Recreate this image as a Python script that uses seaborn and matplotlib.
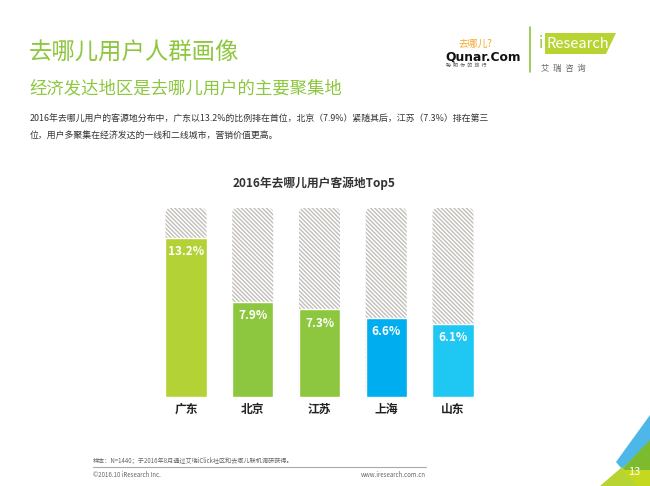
import numpy as np
import pandas as pd
import matplotlib
matplotlib.use("Agg")
import matplotlib.pyplot as plt
import seaborn as sns
from matplotlib.patches import FancyBboxPatch, Polygon
from matplotlib.lines import Line2D

# ---------------- data ----------------
regions = ["广东", "北京", "江苏", "上海", "山东"]
shares = [13.2, 7.9, 7.3, 6.6, 6.1]
value_labels = ["13.2%", "7.9%", "7.3%", "6.6%", "6.1%"]
bar_colors = ["#B2D235", "#8DC63F", "#8DC63F", "#00AEEF", "#1EC8F2"]
track_max = 15.7

chart_title = "2016年去哪儿用户客源地Top5"
main_title = "去哪儿用户人群画像"
sub_title = "经济发达地区是去哪儿用户的主要聚集地"
body_line1 = "2016年去哪儿用户的客源地分布中，广东以13.2%的比例排在首位，北京（7.9%）紧随其后，江苏（7.3%）排在第三"
body_line2 = "位，用户多聚集在经济发达的一线和二线城市，营销价值更高。"
source_note = "样本：N=1440；于2016年8月通过艾瑞iClick社区和去哪儿联机调研获得。"
copyright_note = "©2016.10 iResearch Inc."
site_note = "www.iresearch.com.cn"
page_no = "13"

# ---------------- style ----------------
sns.set_theme(style="white")
plt.rcParams["font.family"] = ["Noto Sans CJK SC", "DejaVu Sans"]
plt.rcParams["hatch.linewidth"] = 1.0

W, H = 650, 486
fig = plt.figure(figsize=(6.5, 4.86), dpi=100)
fig.patch.set_facecolor("white")


def fx(x):
    return x / W


def fy(y):
    return 1 - y / H


ax_left, ax_right, ax_top, ax_bottom = 152.6, 486.35, 208, 397
ax = fig.add_axes([fx(ax_left), fy(ax_bottom), (ax_right - ax_left) / W, (ax_bottom - ax_top) / H])

df = pd.DataFrame({"region": regions, "share": shares, "track": [track_max] * len(regions)})

# background hatched tracks
sns.barplot(data=df, x="region", y="track", color="white", width=0.615,
            saturation=1, ax=ax, zorder=0.5)
ppu_x = (ax_right - ax_left) / len(regions)
ppu_y = (ax_bottom - ax_top) / track_max
aspect = ppu_x / ppu_y
for p in list(ax.patches):
    x, y, w, h = p.get_x(), p.get_y(), p.get_width(), p.get_height()
    p.remove()
    fb = FancyBboxPatch((x, y), w, h,
                        boxstyle="round,pad=0,rounding_size=0.08",
                        mutation_aspect=aspect,
                        facecolor="white", edgecolor="#C2BEB9",
                        linewidth=0, hatch="\\" * 8, zorder=0.5)
    ax.add_patch(fb)

n_before = len(ax.patches)
sns.barplot(data=df, x="region", y="share", hue="region", palette=bar_colors,
            width=0.615, saturation=1, legend=False, ax=ax, zorder=2)
bars = sorted(ax.patches[n_before:], key=lambda b: b.get_x())
for b, lab in zip(bars, value_labels):
    ax.annotate(lab, (b.get_x() + b.get_width() / 2, b.get_height()),
                xytext=(0, -10), textcoords="offset points",
                ha="center", va="center", color="white",
                fontsize=8.5, fontweight="bold", zorder=3)

ax.set_xlim(-0.5, len(regions) - 0.5)
ax.set_ylim(0, track_max)
ax.set_xlabel("")
ax.set_ylabel("")
ax.set_yticks([])
ax.tick_params(axis="x", length=0, pad=4)
for t in ax.get_xticklabels():
    t.set_fontsize(8.5)
    t.set_fontweight("bold")
    t.set_color("#222222")
for s in ax.spines.values():
    s.set_visible(False)
ax.patch.set_alpha(0)

# ---------------- texts ----------------
green = "#8DC63F"
fig.text(fx(29), fy(53), main_title, fontsize=16.8, color=green, ha="left", va="center")
fig.text(fx(29), fy(88), sub_title, fontsize=12.5, color=green, ha="left", va="center")
fig.text(fx(30), fy(118), body_line1, fontsize=6.4, color="#333333", ha="left", va="center")
fig.text(fx(30), fy(135), body_line2, fontsize=6.4, color="#333333", ha="left", va="center")
fig.text(fx(314), fy(183), chart_title, fontsize=8.5, fontweight="bold", color="#333333",
         ha="center", va="center")

fig.text(fx(93), fy(461), source_note, fontsize=4.4, color="#666666", ha="left", va="center")
fig.add_artist(Line2D([fx(93), fx(426)], [fy(467), fy(467)], color="#AAAAAA", lw=0.8,
                      transform=fig.transFigure))
fig.text(fx(93), fy(475), copyright_note, fontsize=4.4, color="#666666", ha="left", va="center")
fig.text(fx(426), fy(475), site_note, fontsize=4.4, color="#666666", ha="right", va="center")

# ---------------- logos ----------------
fig.text(fx(458), fy(44), "去哪儿?", fontsize=7, color="#F5A623", ha="left", va="center")
fig.text(fx(445), fy(57), "Qunar.Com", fontsize=8.8, fontweight="bold", color="#111111",
         ha="left", va="center", family=["DejaVu Sans"])
fig.text(fx(446), fy(65.5), "聪  明  你  的  旅  行", fontsize=3.5, color="#555555", ha="left", va="center")
fig.add_artist(Line2D([fx(530), fx(530)], [fy(27), fy(72)], color=green, lw=1.2,
                      transform=fig.transFigure))
poly = Polygon([(fx(545), fy(33)), (fx(616), fy(33)), (fx(606), fy(54)), (fx(545), fy(54))],
               closed=True, facecolor="#B8D432", edgecolor="none", transform=fig.transFigure)
fig.add_artist(poly)
fig.text(fx(539), fy(44), "i", fontsize=11, color=green, ha="left", va="center")
fig.text(fx(546), fy(44), "Research", fontsize=10.5, color="white", ha="left", va="center")
fig.text(fx(541), fy(68), "艾  瑞  咨  询", fontsize=6, color="#666666", ha="left", va="center")

# ---------------- corner decoration ----------------
corner = [
    ([(616, 462), (650, 415), (650, 442), (622, 469)], "#4DB8E8"),
    ([(622, 469), (650, 440), (650, 486), (612, 486)], "#7DBB2E"),
    ([(600, 486), (622, 467), (640, 486)], "#B8D432"),
    ([(622, 470), (650, 470), (650, 486), (638, 486)], "#C3D81E"),
]
for pts, col in corner:
    fig.add_artist(Polygon([(fx(a), fy(b)) for a, b in pts], closed=True,
                           facecolor=col, edgecolor="none", transform=fig.transFigure))
fig.text(fx(634), fy(472), page_no, fontsize=8, color="white", ha="center", va="center")

fig.savefig("out.png", dpi=100, facecolor="white")
